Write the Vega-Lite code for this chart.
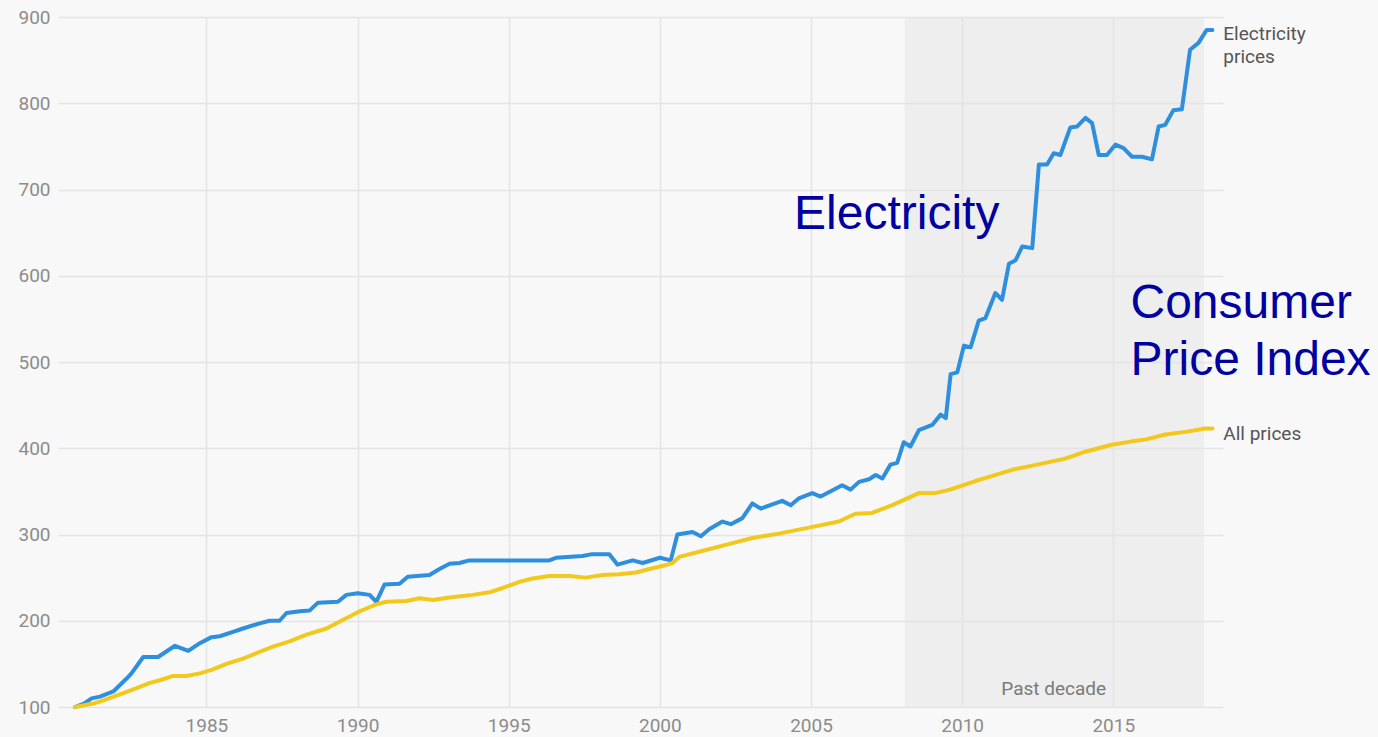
{
  "$schema": "https://vega.github.io/schema/vega-lite/v6.json",
  "width": 1165,
  "height": 690,
  "autosize": {"type": "none"},
  "padding": {"left": 58, "top": 17, "right": 155, "bottom": 30},
  "background": "#f8f8f8",
  "config": {
    "view": {"stroke": null},
    "font": "Roboto",
    "axis": {
      "labelFont": "Roboto",
      "labelFontSize": 19,
      "labelColor": "#8c8c8c",
      "gridColor": "#e4e4e4",
      "gridWidth": 1.5,
      "domain": false,
      "ticks": false,
      "title": null
    }
  },
  "datasets": {
    "prices": [
      {"series": "Electricity", "year": 1980.65, "value": 100},
      {"series": "Electricity", "year": 1980.95, "value": 104},
      {"series": "Electricity", "year": 1981.2, "value": 110},
      {"series": "Electricity", "year": 1981.48, "value": 112},
      {"series": "Electricity", "year": 1981.92, "value": 118},
      {"series": "Electricity", "year": 1982.36, "value": 133},
      {"series": "Electricity", "year": 1982.52, "value": 139},
      {"series": "Electricity", "year": 1982.91, "value": 158},
      {"series": "Electricity", "year": 1983.4, "value": 158},
      {"series": "Electricity", "year": 1983.96, "value": 171},
      {"series": "Electricity", "year": 1984.4, "value": 165},
      {"series": "Electricity", "year": 1984.78, "value": 174},
      {"series": "Electricity", "year": 1985.17, "value": 181},
      {"series": "Electricity", "year": 1985.44, "value": 182},
      {"series": "Electricity", "year": 1985.88, "value": 187},
      {"series": "Electricity", "year": 1986.21, "value": 191},
      {"series": "Electricity", "year": 1986.76, "value": 197},
      {"series": "Electricity", "year": 1987.09, "value": 200},
      {"series": "Electricity", "year": 1987.42, "value": 200},
      {"series": "Electricity", "year": 1987.65, "value": 209},
      {"series": "Electricity", "year": 1988.09, "value": 211},
      {"series": "Electricity", "year": 1988.42, "value": 212},
      {"series": "Electricity", "year": 1988.69, "value": 221},
      {"series": "Electricity", "year": 1989.35, "value": 222},
      {"series": "Electricity", "year": 1989.63, "value": 230},
      {"series": "Electricity", "year": 1990.01, "value": 232},
      {"series": "Electricity", "year": 1990.4, "value": 230},
      {"series": "Electricity", "year": 1990.62, "value": 222},
      {"series": "Electricity", "year": 1990.89, "value": 242},
      {"series": "Electricity", "year": 1991.39, "value": 243},
      {"series": "Electricity", "year": 1991.66, "value": 251},
      {"series": "Electricity", "year": 1992.38, "value": 253},
      {"series": "Electricity", "year": 1992.71, "value": 260},
      {"series": "Electricity", "year": 1993.04, "value": 266},
      {"series": "Electricity", "year": 1993.37, "value": 267},
      {"series": "Electricity", "year": 1993.7, "value": 270},
      {"series": "Electricity", "year": 1994.36, "value": 270},
      {"series": "Electricity", "year": 1996.34, "value": 270},
      {"series": "Electricity", "year": 1996.56, "value": 273},
      {"series": "Electricity", "year": 1997.44, "value": 275},
      {"series": "Electricity", "year": 1997.72, "value": 277},
      {"series": "Electricity", "year": 1998.33, "value": 277},
      {"series": "Electricity", "year": 1998.6, "value": 265},
      {"series": "Electricity", "year": 1999.1, "value": 270},
      {"series": "Electricity", "year": 1999.43, "value": 267},
      {"series": "Electricity", "year": 2000.0, "value": 273},
      {"series": "Electricity", "year": 2000.36, "value": 270},
      {"series": "Electricity", "year": 2000.58, "value": 300},
      {"series": "Electricity", "year": 2001.08, "value": 303},
      {"series": "Electricity", "year": 2001.36, "value": 298},
      {"series": "Electricity", "year": 2001.63, "value": 306},
      {"series": "Electricity", "year": 2002.07, "value": 315},
      {"series": "Electricity", "year": 2002.35, "value": 312},
      {"series": "Electricity", "year": 2002.73, "value": 319},
      {"series": "Electricity", "year": 2003.06, "value": 336},
      {"series": "Electricity", "year": 2003.34, "value": 330},
      {"series": "Electricity", "year": 2003.72, "value": 335},
      {"series": "Electricity", "year": 2004.05, "value": 339},
      {"series": "Electricity", "year": 2004.33, "value": 334},
      {"series": "Electricity", "year": 2004.6, "value": 342},
      {"series": "Electricity", "year": 2005.04, "value": 348},
      {"series": "Electricity", "year": 2005.32, "value": 344},
      {"series": "Electricity", "year": 2005.7, "value": 351},
      {"series": "Electricity", "year": 2006.03, "value": 357},
      {"series": "Electricity", "year": 2006.31, "value": 352},
      {"series": "Electricity", "year": 2006.59, "value": 361},
      {"series": "Electricity", "year": 2006.92, "value": 364},
      {"series": "Electricity", "year": 2007.14, "value": 369},
      {"series": "Electricity", "year": 2007.36, "value": 365},
      {"series": "Electricity", "year": 2007.63, "value": 381},
      {"series": "Electricity", "year": 2007.85, "value": 383},
      {"series": "Electricity", "year": 2008.07, "value": 407},
      {"series": "Electricity", "year": 2008.29, "value": 402},
      {"series": "Electricity", "year": 2008.57, "value": 421},
      {"series": "Electricity", "year": 2009.01, "value": 427},
      {"series": "Electricity", "year": 2009.29, "value": 439},
      {"series": "Electricity", "year": 2009.46, "value": 435},
      {"series": "Electricity", "year": 2009.62, "value": 486},
      {"series": "Electricity", "year": 2009.84, "value": 488},
      {"series": "Electricity", "year": 2010.06, "value": 519},
      {"series": "Electricity", "year": 2010.28, "value": 517},
      {"series": "Electricity", "year": 2010.55, "value": 548},
      {"series": "Electricity", "year": 2010.77, "value": 551},
      {"series": "Electricity", "year": 2011.1, "value": 580},
      {"series": "Electricity", "year": 2011.32, "value": 572},
      {"series": "Electricity", "year": 2011.55, "value": 614},
      {"series": "Electricity", "year": 2011.77, "value": 618},
      {"series": "Electricity", "year": 2011.99, "value": 634},
      {"series": "Electricity", "year": 2012.32, "value": 632},
      {"series": "Electricity", "year": 2012.54, "value": 729},
      {"series": "Electricity", "year": 2012.81, "value": 729},
      {"series": "Electricity", "year": 2013.03, "value": 742},
      {"series": "Electricity", "year": 2013.25, "value": 740},
      {"series": "Electricity", "year": 2013.58, "value": 772},
      {"series": "Electricity", "year": 2013.8, "value": 773},
      {"series": "Electricity", "year": 2014.08, "value": 783},
      {"series": "Electricity", "year": 2014.3, "value": 777},
      {"series": "Electricity", "year": 2014.52, "value": 740},
      {"series": "Electricity", "year": 2014.79, "value": 740},
      {"series": "Electricity", "year": 2015.07, "value": 752},
      {"series": "Electricity", "year": 2015.34, "value": 748},
      {"series": "Electricity", "year": 2015.62, "value": 738},
      {"series": "Electricity", "year": 2015.95, "value": 738},
      {"series": "Electricity", "year": 2016.28, "value": 735},
      {"series": "Electricity", "year": 2016.5, "value": 773},
      {"series": "Electricity", "year": 2016.72, "value": 775},
      {"series": "Electricity", "year": 2016.99, "value": 792},
      {"series": "Electricity", "year": 2017.27, "value": 793},
      {"series": "Electricity", "year": 2017.54, "value": 862},
      {"series": "Electricity", "year": 2017.82, "value": 870},
      {"series": "Electricity", "year": 2018.09, "value": 885},
      {"series": "Electricity", "year": 2018.28, "value": 885},
      {"series": "All prices", "year": 1980.65, "value": 100},
      {"series": "All prices", "year": 1981.26, "value": 104},
      {"series": "All prices", "year": 1981.7, "value": 109},
      {"series": "All prices", "year": 1982.25, "value": 116},
      {"series": "All prices", "year": 1982.69, "value": 122},
      {"series": "All prices", "year": 1983.13, "value": 128},
      {"series": "All prices", "year": 1983.46, "value": 131},
      {"series": "All prices", "year": 1983.9, "value": 136},
      {"series": "All prices", "year": 1984.34, "value": 136},
      {"series": "All prices", "year": 1984.78, "value": 139},
      {"series": "All prices", "year": 1985.17, "value": 143},
      {"series": "All prices", "year": 1985.66, "value": 150},
      {"series": "All prices", "year": 1986.21, "value": 156},
      {"series": "All prices", "year": 1986.76, "value": 164},
      {"series": "All prices", "year": 1987.2, "value": 170},
      {"series": "All prices", "year": 1987.75, "value": 176},
      {"series": "All prices", "year": 1988.31, "value": 184},
      {"series": "All prices", "year": 1988.97, "value": 191},
      {"series": "All prices", "year": 1989.3, "value": 197},
      {"series": "All prices", "year": 1989.74, "value": 205},
      {"series": "All prices", "year": 1990.07, "value": 211},
      {"series": "All prices", "year": 1990.62, "value": 219},
      {"series": "All prices", "year": 1990.95, "value": 222},
      {"series": "All prices", "year": 1991.61, "value": 223},
      {"series": "All prices", "year": 1992.05, "value": 226},
      {"series": "All prices", "year": 1992.49, "value": 224},
      {"series": "All prices", "year": 1993.04, "value": 227},
      {"series": "All prices", "year": 1993.81, "value": 230},
      {"series": "All prices", "year": 1994.36, "value": 233},
      {"series": "All prices", "year": 1994.8, "value": 238},
      {"series": "All prices", "year": 1995.35, "value": 245},
      {"series": "All prices", "year": 1995.79, "value": 249},
      {"series": "All prices", "year": 1996.34, "value": 252},
      {"series": "All prices", "year": 1997.0, "value": 252},
      {"series": "All prices", "year": 1997.56, "value": 250},
      {"series": "All prices", "year": 1998.1, "value": 253},
      {"series": "All prices", "year": 1998.66, "value": 254},
      {"series": "All prices", "year": 1999.21, "value": 256},
      {"series": "All prices", "year": 1999.65, "value": 260},
      {"series": "All prices", "year": 2000.25, "value": 265},
      {"series": "All prices", "year": 2000.42, "value": 267},
      {"series": "All prices", "year": 2000.64, "value": 274},
      {"series": "All prices", "year": 2001.52, "value": 282},
      {"series": "All prices", "year": 2002.4, "value": 290},
      {"series": "All prices", "year": 2003.06, "value": 296},
      {"series": "All prices", "year": 2003.94, "value": 301},
      {"series": "All prices", "year": 2004.93, "value": 308},
      {"series": "All prices", "year": 2005.92, "value": 315},
      {"series": "All prices", "year": 2006.47, "value": 324},
      {"series": "All prices", "year": 2007.02, "value": 325},
      {"series": "All prices", "year": 2007.69, "value": 334},
      {"series": "All prices", "year": 2008.57, "value": 348},
      {"series": "All prices", "year": 2009.1, "value": 348},
      {"series": "All prices", "year": 2009.6, "value": 352},
      {"series": "All prices", "year": 2010.44, "value": 362},
      {"series": "All prices", "year": 2011.0, "value": 368},
      {"series": "All prices", "year": 2011.65, "value": 375},
      {"series": "All prices", "year": 2012.2, "value": 379},
      {"series": "All prices", "year": 2012.75, "value": 383},
      {"series": "All prices", "year": 2013.41, "value": 388},
      {"series": "All prices", "year": 2014.07, "value": 396},
      {"series": "All prices", "year": 2014.95, "value": 404},
      {"series": "All prices", "year": 2015.62, "value": 408},
      {"series": "All prices", "year": 2016.06, "value": 410},
      {"series": "All prices", "year": 2016.72, "value": 416},
      {"series": "All prices", "year": 2017.38, "value": 419},
      {"series": "All prices", "year": 2018.04, "value": 423},
      {"series": "All prices", "year": 2018.28, "value": 423}
    ]
  },
  "layer": [
    {
      "data": {"values": [{"label": "Past decade"}]},
      "mark": {"type": "rect", "color": "#e4e4e4", "opacity": 0.5},
      "encoding": {
        "x": {"datum": 2008.1, "type": "quantitative", "scale": {"domain": [1980.09, 2018.63], "nice": false, "zero": false},
          "axis": {"values": [1985, 1990, 1995, 2000, 2005, 2010, 2015], "format": "d", "labelPadding": 9, "grid": true}},
        "x2": {"datum": 2018.0},
        "y": {"datum": 100, "type": "quantitative", "scale": {"domain": [100, 900], "nice": false, "zero": false},
          "axis": {"values": [100, 200, 300, 400, 500, 600, 700, 800, 900], "labelPadding": 8, "grid": true}},
        "y2": {"datum": 900}
      }
    },
    {
      "data": {"name": "prices"},
      "mark": {"type": "line", "strokeWidth": 4, "strokeJoin": "round", "strokeCap": "round"},
      "encoding": {
        "x": {"field": "year", "type": "quantitative"},
        "y": {"field": "value", "type": "quantitative"},
        "color": {"field": "series", "type": "nominal", "scale": {"domain": ["All prices", "Electricity"], "range": ["#f2c81c", "#2d8fdd"]}, "legend": null},
        "order": {"field": "year", "type": "quantitative"}
      }
    },
    {
      "data": {"values": [{}]},
      "mark": {"type": "text", "text": "Past decade", "align": "center", "baseline": "alphabetic", "fontSize": 19, "color": "#7a7a7a", "font": "Roboto"},
      "encoding": {"x": {"datum": 2013.03, "type": "quantitative"}, "y": {"datum": 114, "type": "quantitative"}}
    },
    {
      "data": {"values": [{}]},
      "mark": {"type": "text", "text": ["Electricity", "prices"], "align": "left", "baseline": "alphabetic", "fontSize": 19, "lineHeight": 23, "color": "#555555", "font": "Roboto"},
      "encoding": {"x": {"datum": 2018.64, "type": "quantitative"}, "y": {"datum": 873, "type": "quantitative"}}
    },
    {
      "data": {"values": [{}]},
      "mark": {"type": "text", "text": "All prices", "align": "left", "baseline": "alphabetic", "fontSize": 19, "color": "#555555", "font": "Roboto"},
      "encoding": {"x": {"datum": 2018.64, "type": "quantitative"}, "y": {"datum": 410, "type": "quantitative"}}
    },
    {
      "data": {"values": [{}]},
      "mark": {"type": "text", "text": "Electricity", "align": "left", "baseline": "alphabetic", "fontSize": 48, "color": "#0000a0", "font": "Liberation Sans"},
      "encoding": {"x": {"datum": 2004.44, "type": "quantitative"}, "y": {"datum": 654, "type": "quantitative"}}
    },
    {
      "data": {"values": [{}]},
      "mark": {"type": "text", "text": ["Consumer", "Price Index"], "align": "left", "baseline": "alphabetic", "fontSize": 48, "lineHeight": 57, "color": "#0000a0", "font": "Liberation Sans"},
      "encoding": {"x": {"datum": 2015.57, "type": "quantitative"}, "y": {"datum": 551, "type": "quantitative"}}
    }
  ]
}
